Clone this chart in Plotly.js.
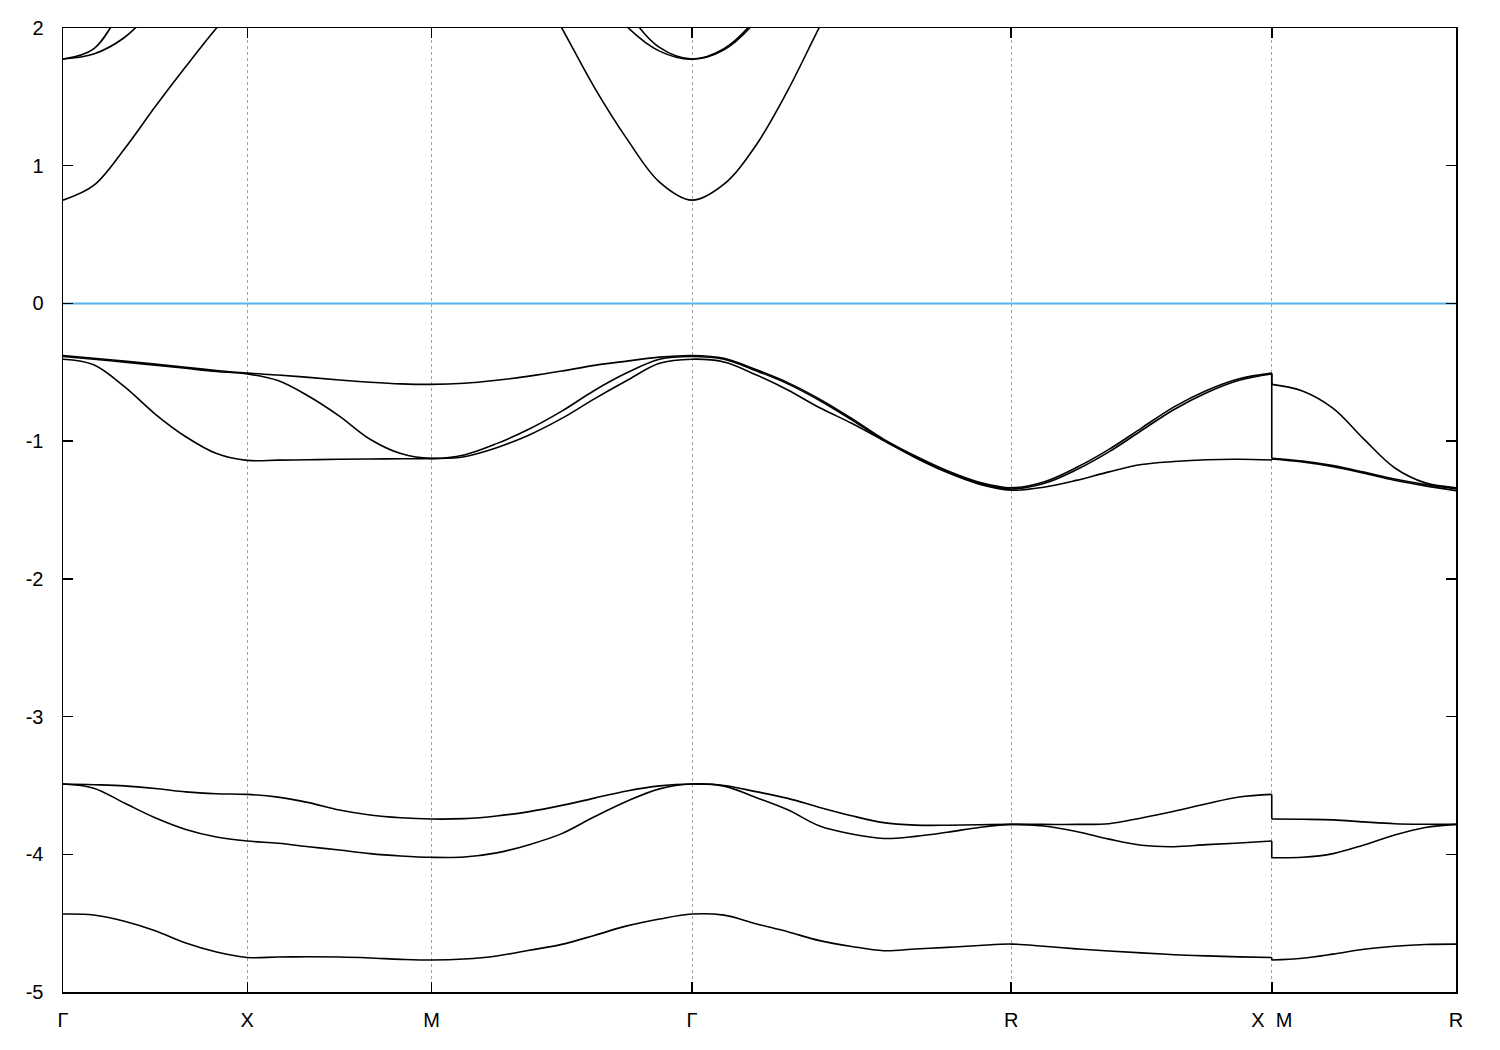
<!DOCTYPE html>
<html>
<head>
<meta charset="utf-8">
<script src="https://cdn.plot.ly/plotly-3.0.1.min.js"></script>
<style>html,body{margin:0;padding:0;background:#fff;}#chart{width:1500px;height:1050px;}</style>
</head>
<body>
<div id="chart"></div>
<script>
// k-path distance (Γ-X-M-Γ-R-X | M-R), part A runs Γ..X, part B runs M..R
const kA = [0, 0.0833, 0.1667, 0.25, 0.3333, 0.4167, 0.5,
  0.5833, 0.6667, 0.75, 0.8333, 0.9167, 1.0,
  1.0884, 1.1768, 1.2652, 1.3536, 1.4419, 1.5303, 1.6187, 1.7071,
  1.7937, 1.8803, 1.9669, 2.0535, 2.1401, 2.2267, 2.3133, 2.3999, 2.4865, 2.5731,
  2.6615, 2.7499, 2.8383, 2.9267, 3.0151, 3.1034, 3.1918, 3.2802];
const kB = [3.2802, 3.3635, 3.4469, 3.5302, 3.6135, 3.6969, 3.7802];

const tickPos = [0, 0.5, 1.0, 1.7071, 2.5731, 3.2802, 3.7802];
const tickLabels = ["Γ", "X", "M", "Γ", "R", "X\u00a0\u00a0M", "R"];
const energyTicks = [2, 1, 0, -1, -2, -3, -4, -5];
const fermiLevel = 0;

// bands, part A (Γ→X→M→Γ→R→X)
const bandB_A = [-4.434, -4.441, -4.486, -4.555, -4.645, -4.71, -4.749,
  -4.746, -4.744, -4.746, -4.753, -4.763, -4.768,
  -4.760, -4.738, -4.697, -4.654, -4.589, -4.52, -4.47, -4.434,
  -4.442, -4.504, -4.563, -4.627, -4.669, -4.70, -4.688, -4.676, -4.662, -4.652,
  -4.668, -4.687, -4.702, -4.716, -4.729, -4.738, -4.745, -4.749];
const bandL2_A = [-3.49, -3.52, -3.628, -3.735, -3.82, -3.875, -3.904,
  -3.92, -3.945, -3.969, -3.995, -4.012, -4.022,
  -4.02, -3.99, -3.93, -3.85, -3.728, -3.615, -3.525, -3.49,
  -3.505, -3.587, -3.677, -3.795, -3.853, -3.885, -3.870, -3.84, -3.805, -3.783,
  -3.795, -3.835, -3.89, -3.935, -3.945, -3.93, -3.918, -3.904];
const bandL1_A = [-3.49, -3.495, -3.503, -3.522, -3.547, -3.560, -3.565,
  -3.585, -3.625, -3.679, -3.715, -3.735, -3.744,
  -3.741, -3.722, -3.690, -3.645, -3.592, -3.540, -3.503, -3.49,
  -3.50, -3.545, -3.594, -3.66, -3.72, -3.77, -3.788, -3.789, -3.786, -3.783,
  -3.783, -3.783, -3.778, -3.736, -3.687, -3.633, -3.584, -3.565];
const bandV3_A = [-0.405, -0.445, -0.604, -0.803, -0.968, -1.090, -1.140,
  -1.138, -1.135, -1.132, -1.130, -1.128, -1.127,
  -1.113, -1.048, -0.955, -0.835, -0.693, -0.560, -0.435, -0.405,
  -0.425, -0.518, -0.629, -0.758, -0.870, -0.995, -1.120, -1.228, -1.312, -1.356,
  -1.335, -1.285, -1.223, -1.170, -1.148, -1.135, -1.132, -1.137];
const bandV2_A = [-0.385, -0.405, -0.426, -0.448, -0.471, -0.494, -0.512,
  -0.56, -0.674, -0.818, -0.986, -1.09, -1.125,
  -1.10, -1.018, -0.912, -0.782, -0.632, -0.504, -0.405, -0.385,
  -0.405, -0.488, -0.584, -0.705, -0.845, -0.992, -1.116, -1.223, -1.305, -1.347,
  -1.308, -1.208, -1.078, -0.923, -0.770, -0.648, -0.558, -0.512];
const bandV1_A = [-0.378, -0.398, -0.419, -0.441, -0.464, -0.487, -0.506,
  -0.52, -0.537, -0.556, -0.572, -0.584, -0.588,
  -0.580, -0.558, -0.528, -0.491, -0.450, -0.419, -0.390, -0.378,
  -0.398, -0.480, -0.575, -0.695, -0.835, -0.985, -1.108, -1.215, -1.298, -1.338,
  -1.296, -1.192, -1.060, -0.905, -0.751, -0.632, -0.547, -0.506];
const bandC1_A = [0.75, 0.857, 1.122, 1.428, 1.72, 2.0, 2.25,
  2.4, 2.55, 2.7, 2.82, 2.92, 3.0,
  2.97, 2.78, 2.42, 2.0, 1.569, 1.195, 0.881, 0.75,
  0.866, 1.147, 1.547, 2.01, 2.45, 2.85, 3.15, 3.35, 3.45, 3.5,
  3.45, 3.35, 3.2, 3.0, 2.8, 2.6, 2.4, 2.25];
const bandC2_A = [1.775, 1.811, 1.931, 2.15, 2.4, 2.6, 2.75,
  2.85, 2.95, 3.0, 3.05, 3.1, 3.1,
  3.05, 2.95, 2.75, 2.52, 2.3, 2.01, 1.832, 1.773,
  1.842, 2.05, 2.4, 2.7, 2.95, 3.1, 3.2, 3.25, 3.3, 3.3,
  3.25, 3.2, 3.1, 3.0, 2.9, 2.85, 2.8, 2.75];
const bandC3_A = [1.775, 1.849, 2.17, 2.5, 2.75, 2.9, 3.0,
  3.1, 3.2, 3.3, 3.35, 3.4, 3.4,
  3.35, 3.2, 3.0, 2.75, 2.48, 2.12, 1.859, 1.775,
  1.85, 2.07, 2.45, 2.8, 3.05, 3.2, 3.3, 3.35, 3.4, 3.4,
  3.35, 3.3, 3.2, 3.15, 3.1, 3.05, 3.02, 3.0];

// bands, part B (M→R)
const bandB_B  = [-4.768, -4.755, -4.725, -4.69, -4.668, -4.655, -4.652];
const bandL2_B = [-4.025, -4.022, -3.995, -3.932, -3.86, -3.805, -3.783];
const bandL1_B = [-3.744, -3.746, -3.750, -3.765, -3.778, -3.782, -3.783];
const bandV3_B = [-1.130, -1.152, -1.186, -1.233, -1.284, -1.325, -1.360];
const bandV2_B = [-1.125, -1.145, -1.178, -1.225, -1.275, -1.315, -1.347];
const bandV1_B = [-0.588, -0.635, -0.762, -0.985, -1.193, -1.303, -1.338];
const bandC1_B = [3.0, 3.1, 3.25, 3.35, 3.45, 3.48, 3.5];
const bandC2_B = [3.1, 3.15, 3.2, 3.25, 3.28, 3.3, 3.3];
const bandC3_B = [3.4, 3.42, 3.45, 3.45, 3.45, 3.42, 3.4];

const bands = [
  [bandB_A, bandB_B], [bandL2_A, bandL2_B], [bandL1_A, bandL1_B],
  [bandV3_A, bandV3_B], [bandV2_A, bandV2_B], [bandV1_A, bandV1_B],
  [bandC1_A, bandC1_B], [bandC2_A, bandC2_B], [bandC3_A, bandC3_B]
];

const lineStyle = {color: '#000000', width: 1.6};
const traces = [];
bands.forEach(([a, b]) => {
  traces.push({x: kA, y: a, mode: 'lines', line: Object.assign({shape: 'spline', smoothing: 1.0}, lineStyle), hoverinfo: 'skip'});
  traces.push({x: kB, y: b, mode: 'lines', line: Object.assign({shape: 'spline', smoothing: 1.0}, lineStyle), hoverinfo: 'skip'});
  traces.push({x: [kA[kA.length - 1], kB[0]], y: [a[a.length - 1], b[0]], mode: 'lines', line: Object.assign({shape: 'linear'}, lineStyle), hoverinfo: 'skip'});
});

const font = {family: '"Liberation Sans", Arial, sans-serif', size: 20, color: '#000000'};

const layout = {
  width: 1500, height: 1050,
  margin: {l: 63, r: 44, t: 28, b: 58, pad: 0},
  paper_bgcolor: '#ffffff', plot_bgcolor: '#ffffff',
  showlegend: false,
  font: font,
  xaxis: {
    range: [tickPos[0], tickPos[tickPos.length - 1]],
    tickmode: 'array', tickvals: tickPos, ticktext: tickLabels,
    ticks: 'inside', ticklen: 10, tickwidth: 1.5, tickcolor: '#000000',
    showline: true, linecolor: '#000000', linewidth: 1.5, mirror: 'ticks',
    showgrid: true, gridcolor: '#a0a0a0', gridwidth: 1, griddash: 'dot',
    zeroline: false, tickfont: font, ticklabelstandoff: 9, fixedrange: true
  },
  yaxis: {
    range: [-5, 2],
    tickmode: 'array', tickvals: energyTicks, ticktext: energyTicks.map(String),
    ticks: 'inside', ticklen: 10, tickwidth: 1.5, tickcolor: '#000000',
    showline: true, linecolor: '#000000', linewidth: 1.5, mirror: 'ticks',
    showgrid: false, zeroline: false, tickfont: font, ticklabelstandoff: 14, fixedrange: true
  },
  shapes: [{
    type: 'line', xref: 'paper', x0: 0, x1: 1, yref: 'y', y0: fermiLevel, y1: fermiLevel,
    line: {color: '#56b4e9', width: 2}, layer: 'below'
  }]
};

Plotly.newPlot('chart', traces, layout, {displayModeBar: false, staticPlot: true});
</script>
</body>
</html>
